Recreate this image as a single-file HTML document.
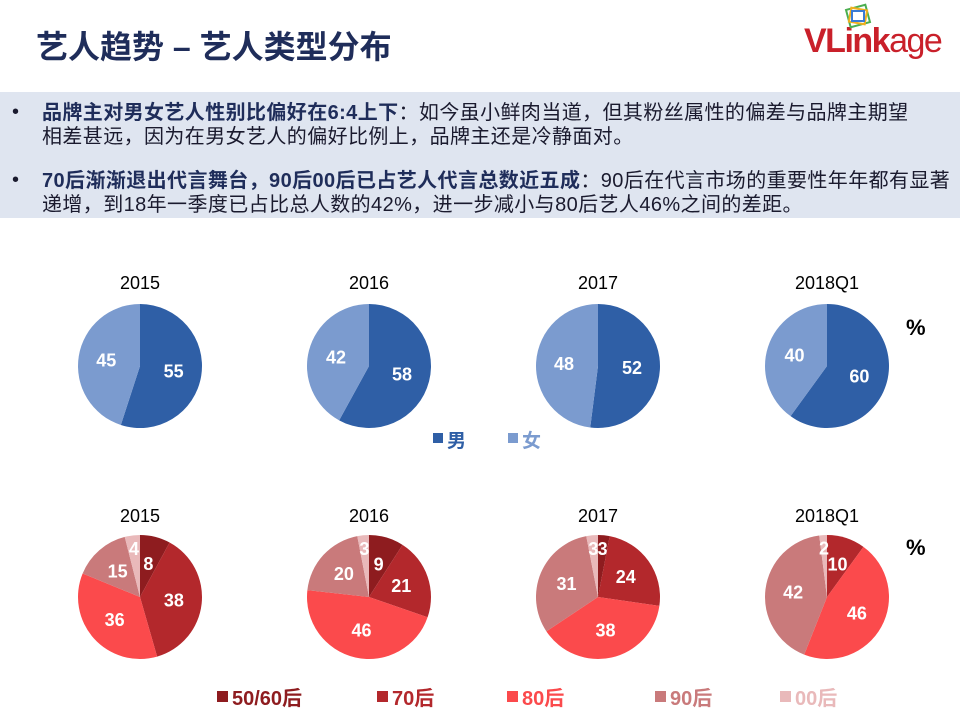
<!DOCTYPE html>
<html><head><meta charset="utf-8"><style>
body{margin:0;width:960px;height:720px;background:#fff;overflow:hidden;font-family:"Liberation Sans","Noto Sans CJK SC",sans-serif;position:relative}
.abs{position:absolute}
#title{left:36px;top:22px;font-size:32px;font-weight:bold;color:#1f2d5a}
#band{left:0;top:92px;width:960px;height:126px;background:#dfe5f0}
.b{position:absolute;left:42px;font-size:20px;line-height:24px;color:#1a1a2e;white-space:nowrap;letter-spacing:0.4px}
.b b{color:#1f2d5a}
.dot{position:absolute;left:12px;font-size:20px;color:#1a1a2e}
.t{font-size:18px;color:#000;text-anchor:middle}
</style></head><body>
<div id="title" class="abs">艺人趋势 – 艺人类型分布</div>
<div class="abs" style="left:804px;top:22px;font-size:34px;font-weight:bold;letter-spacing:-1.5px"><span style="color:#c9202a">VLink</span><span style="color:#c9202a;font-weight:normal">age</span></div>
<svg class="abs" style="left:840px;top:2px" width="36" height="28"><rect x="8" y="5" width="20" height="18" fill="none" stroke="#4caf50" stroke-width="2" transform="rotate(-15 18 14)"/><rect x="10" y="7" width="16" height="14" fill="none" stroke="#f0b020" stroke-width="2" transform="rotate(10 18 14)"/><rect x="12" y="9" width="12" height="10" fill="none" stroke="#3a7bd5" stroke-width="2"/></svg>
<div id="band" class="abs">
<div class="dot" style="top:9px">•</div>
<div class="b" style="top:9px"><b>品牌主对男女艺人性别比偏好在6:4上下</b>：如今虽小鲜肉当道，但其粉丝属性的偏差与品牌主期望</div>
<div class="b" style="top:33px">相差甚远，因为在男女艺人的偏好比例上，品牌主还是冷静面对。</div>
<div class="dot" style="top:77px">•</div>
<div class="b" style="top:77px"><b>70后渐渐退出代言舞台，90后00后已占艺人代言总数近五成</b>：90后在代言市场的重要性年年都有显著</div>
<div class="b" style="top:101px">递增，到18年一季度已占比总人数的42%，进一步减小与80后艺人46%之间的差距。</div>
</div>
<svg id="chart" class="abs" style="left:0;top:0" width="960" height="720"></svg>
<script>
const years=["2015","2016","2017","2018Q1"];
const male=[55,58,52,60];
const female=[45,42,48,40];
const gen5060=[8,9,3,0];
const gen70=[38,21,24,10];
const gen80=[36,46,38,46];
const gen90=[15,20,31,42];
const gen00=[4,3,3,2];
const genderNames=["男","女"];
const genNames=["50/60后","70后","80后","90后","00后"];
const genderColors=["#2f5fa6","#7b9bcf"];
const genColors=["#8e1c1f","#b3282c","#fb4a4c","#c97a7b","#e9b9ba"];
const cxs=[140,369,598,827];
const svg=document.getElementById('chart');
const NS="http://www.w3.org/2000/svg";
function mk(tag,attrs){const e=document.createElementNS(NS,tag);for(const k in attrs)e.setAttribute(k,attrs[k]);svg.appendChild(e);return e;}
function pie(cx,cy,r,vals,colors,name){
  const tot=vals.reduce((a,b)=>a+b,0);let a0=0;
  vals.forEach((v,i)=>{
    if(v<=0)return;
    const a1=a0+v/tot*2*Math.PI;
    const p=(a)=>[cx+r*Math.sin(a),cy-r*Math.cos(a)];
    const [x0,y0]=p(a0),[x1,y1]=p(a1);
    const large=(a1-a0)>Math.PI?1:0;
    const s=mk('path',{d:`M${cx},${cy}L${x0},${y0}A${r},${r} 0 ${large} 1 ${x1},${y1}Z`,fill:colors[i]});
    
    
    const am=(a0+a1)/2;const lr=(v/tot<0.06)?r*0.78:r*0.55;
    const t=mk('text',{x:cx+lr*Math.sin(am),y:cy-lr*Math.cos(am)+6,fill:'#fff','font-size':'18','font-weight':'bold','text-anchor':'middle'});
    t.textContent=v;
    
    
    a0=a1;
  });
}
years.forEach((y,i)=>{
  const t1=mk('text',{x:cxs[i],y:289,class:'t'});t1.textContent=y;
  
  
  pie(cxs[i],366,62,[male[i],female[i]],genderColors,'gender-pie-'+y);
  const t2=mk('text',{x:cxs[i],y:522,class:'t'});t2.textContent=y;
  
  
  pie(cxs[i],597,62,[gen5060[i],gen70[i],gen80[i],gen90[i],gen00[i]],genColors,'gen-pie-'+y);
});
[[906,335],[906,555]].forEach(([x,y])=>{const t=mk('text',{x:x,y:y,'font-size':'22','font-weight':'bold',fill:'#000'});t.textContent='%';
  
  });
const lgX1=[433,508];
genderNames.forEach((n,i)=>{
  const r=mk('rect',{x:lgX1[i],y:433,width:10,height:10,fill:genderColors[i]});
  
  
  const t=mk('text',{x:lgX1[i]+14,y:447,'font-size':'19','font-weight':'bold',fill:genderColors[i]});t.textContent=n;
  
  
});
const lgX2=[217,377,507,655,780];
genNames.forEach((n,i)=>{
  const r=mk('rect',{x:lgX2[i],y:691,width:11,height:11,fill:genColors[i]});
  
  
  const t=mk('text',{x:lgX2[i]+15,y:705,'font-size':'20','font-weight':'bold',fill:genColors[i]});t.textContent=n;
  
  
});
</script>
</body></html>
